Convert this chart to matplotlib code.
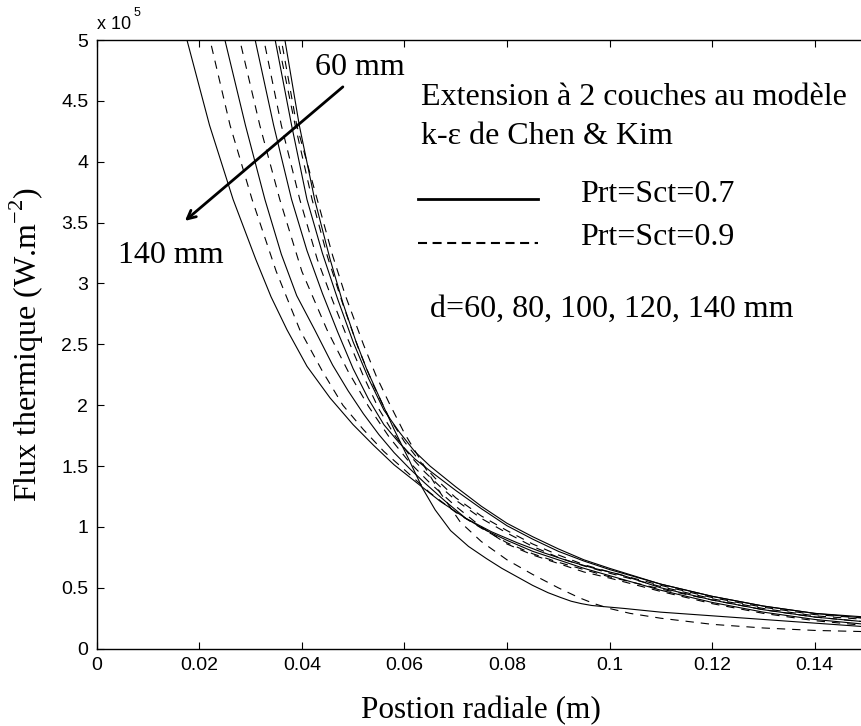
import numpy as np
import matplotlib
matplotlib.use("Agg")
import matplotlib.pyplot as plt
from matplotlib.ticker import FuncFormatter

# flux in units of 1e5 W/m2, x in m
# d = 60 mm
s60_x = [0.0360, 0.0367, 0.0395, 0.0425, 0.0455, 0.0480, 0.0505, 0.0527, 0.0555, 0.0580,
         0.0608, 0.0635, 0.0660, 0.0690, 0.0725, 0.0760, 0.0790, 0.0820, 0.0850, 0.0880,
         0.0905, 0.0925, 0.0945, 0.0965, 0.0990, 0.1030, 0.1100, 0.1200, 0.1300, 0.1400, 0.1500]
s60_y = [5.2, 5.0, 4.3, 3.69, 3.20, 2.84, 2.53, 2.29, 2.03, 1.80,
         1.56, 1.32, 1.14, 0.97, 0.84, 0.74, 0.66, 0.59, 0.52, 0.46,
         0.42, 0.39, 0.37, 0.355, 0.345, 0.33, 0.30, 0.27, 0.24, 0.21, 0.18]
d60_x = [0.0353, 0.0360, 0.0390, 0.0430, 0.0460, 0.0485, 0.0520, 0.0545, 0.0570, 0.0600,
         0.0630, 0.0670, 0.0709, 0.0750, 0.0800, 0.0850, 0.0900, 0.0940, 0.0970, 0.1000,
         0.1040, 0.1100, 0.1200, 0.1300, 0.1400, 0.1500]
d60_y = [5.2, 5.0, 4.3, 3.69, 3.23, 2.90, 2.50, 2.24, 2.02, 1.77,
         1.56, 1.28, 1.04, 0.88, 0.73, 0.61, 0.50, 0.42, 0.37, 0.33,
         0.29, 0.25, 0.20, 0.17, 0.15, 0.14]

# d = 80 mm
s80_x = [0.0341, 0.0348, 0.0380, 0.0410, 0.0440, 0.0470, 0.0500, 0.0530, 0.0560, 0.0590,
         0.0620, 0.0650, 0.0700, 0.0750, 0.0800, 0.0850, 0.0900, 0.0950, 0.1000, 0.1100,
         0.1200, 0.1300, 0.1400, 0.1500]
s80_y = [5.2, 5.0, 4.3, 3.69, 3.25, 2.87, 2.52, 2.22, 1.96, 1.78,
         1.62, 1.50, 1.33, 1.17, 1.03, 0.92, 0.82, 0.73, 0.66, 0.53,
         0.43, 0.35, 0.29, 0.26]
d80_x = [0.0346, 0.0353, 0.0387, 0.0420, 0.0450, 0.0480, 0.0510, 0.0540, 0.0570, 0.0600,
         0.0630, 0.0660, 0.0700, 0.0750, 0.0800, 0.0850, 0.0900, 0.0950, 0.1000, 0.1100,
         0.1200, 0.1300, 0.1400, 0.1500]
d80_y = [5.2, 5.0, 4.3, 3.69, 3.22, 2.83, 2.47, 2.16, 1.90, 1.70,
         1.54, 1.40, 1.24, 1.09, 0.97, 0.86, 0.77, 0.69, 0.63, 0.52,
         0.42, 0.34, 0.28, 0.25]

# d = 100 mm
s100_x = [0.0302, 0.0309, 0.0345, 0.0380, 0.0410, 0.0440, 0.0470, 0.0500, 0.0530, 0.0560,
          0.0590, 0.0620, 0.0650, 0.0700, 0.0750, 0.0800, 0.0850, 0.0900, 0.0950, 0.1000,
          0.1100, 0.1200, 0.1300, 0.1400, 0.1500]
s100_y = [5.2, 5.0, 4.3, 3.69, 3.27, 2.92, 2.60, 2.30, 2.05, 1.84,
          1.69, 1.56, 1.46, 1.30, 1.15, 1.01, 0.90, 0.80, 0.72, 0.65,
          0.53, 0.43, 0.35, 0.29, 0.25]
d100_x = [0.0319, 0.0326, 0.0360, 0.0396, 0.0430, 0.0460, 0.0490, 0.0520, 0.0550, 0.0580,
          0.0610, 0.0640, 0.0670, 0.0700, 0.0750, 0.0800, 0.0850, 0.0900, 0.0950, 0.1000,
          0.1100, 0.1200, 0.1300, 0.1400, 0.1500]
d100_y = [5.2, 5.0, 4.3, 3.69, 3.20, 2.86, 2.54, 2.24, 1.97, 1.76,
          1.59, 1.45, 1.33, 1.22, 1.07, 0.95, 0.84, 0.75, 0.68, 0.62,
          0.51, 0.41, 0.33, 0.27, 0.24]

# d = 120 mm
s120_x = [0.0243, 0.0250, 0.0290, 0.0328, 0.0360, 0.0390, 0.0425, 0.0460, 0.0490, 0.0520,
          0.0550, 0.0580, 0.0610, 0.0640, 0.0680, 0.0720, 0.0760, 0.0800, 0.0850, 0.0900,
          0.0950, 0.1000, 0.1100, 0.1200, 0.1300, 0.1400, 0.1500]
s120_y = [5.2, 5.0, 4.3, 3.69, 3.24, 2.90, 2.62, 2.33, 2.12, 1.93,
          1.76, 1.61, 1.48, 1.36, 1.21, 1.07, 0.97, 0.89, 0.80, 0.73,
          0.66, 0.60, 0.48, 0.38, 0.30, 0.24, 0.20]
d120_x = [0.0272, 0.0279, 0.0318, 0.0357, 0.0400, 0.0449, 0.0490, 0.0530, 0.0570, 0.0610,
          0.0650, 0.0700, 0.0750, 0.0800, 0.0850, 0.0900, 0.0950, 0.1000, 0.1100, 0.1200,
          0.1300, 0.1400, 0.1500]
d120_y = [5.2, 5.0, 4.3, 3.69, 3.10, 2.62, 2.28, 1.99, 1.74, 1.53,
          1.36, 1.17, 1.00, 0.86, 0.77, 0.70, 0.63, 0.58, 0.47, 0.37,
          0.29, 0.23, 0.19]

# d = 140 mm
s140_x = [0.0170, 0.0176, 0.0220, 0.0266, 0.0310, 0.0340, 0.0371, 0.0410, 0.0455, 0.0500,
          0.0540, 0.0580, 0.0625, 0.0670, 0.0720, 0.0770, 0.0820, 0.0870, 0.0920, 0.0970,
          0.1020, 0.1100, 0.1200, 0.1300, 0.1400, 0.1500]
s140_y = [5.2, 5.0, 4.3, 3.69, 3.20, 2.89, 2.62, 2.32, 2.06, 1.84,
          1.67, 1.51, 1.36, 1.21, 1.07, 0.96, 0.87, 0.79, 0.72, 0.66,
          0.61, 0.50, 0.40, 0.32, 0.26, 0.22]
d140_x = [0.0214, 0.0221, 0.0260, 0.0303, 0.0350, 0.0396, 0.0440, 0.0480, 0.0520, 0.0560,
          0.0600, 0.0650, 0.0700, 0.0750, 0.0800, 0.0850, 0.0900, 0.0950, 0.1000, 0.1100,
          0.1200, 0.1300, 0.1400, 0.1500]
d140_y = [5.2, 5.0, 4.3, 3.69, 3.10, 2.62, 2.28, 2.00, 1.80, 1.62,
          1.47, 1.28, 1.12, 0.99, 0.87, 0.78, 0.71, 0.65, 0.59, 0.49,
          0.40, 0.32, 0.26, 0.22]

x_ticks = [0, 0.02, 0.04, 0.06, 0.08, 0.10, 0.12, 0.14]
y_ticks = [0, 0.5, 1, 1.5, 2, 2.5, 3, 3.5, 4, 4.5, 5]

plt.rcParams['lines.scale_dashes'] = False
plt.rcParams['mathtext.fontset'] = 'custom'
plt.rcParams['mathtext.rm'] = 'Liberation Serif'
serif = 'Liberation Serif'
sans = 'Liberation Sans'

fig = plt.figure(figsize=(8.61, 7.26), dpi=100)
ax = fig.add_axes([0.1123, 0.1065, 0.8935, 0.8384])

solid = [(s60_x, s60_y), (s80_x, s80_y), (s100_x, s100_y), (s120_x, s120_y), (s140_x, s140_y)]
dashed = [(d60_x, d60_y), (d80_x, d80_y), (d100_x, d100_y), (d120_x, d120_y), (d140_x, d140_y)]
for xs, ys in solid:
    ax.plot(xs, ys, color='black', lw=0.8)
for xs, ys in dashed:
    ax.plot(xs, ys, color='black', lw=0.8, dashes=(6, 5))

ax.set_xlim(0, 0.15)
ax.set_ylim(0, 5)
ax.set_xticks(x_ticks)
ax.set_yticks(y_ticks)
ax.xaxis.set_major_formatter(FuncFormatter(lambda v, p: '%g' % round(v, 4)))
ax.yaxis.set_major_formatter(FuncFormatter(lambda v, p: '%g' % v))
ax.tick_params(direction='in', length=5, width=0.8, top=True, right=False,
               labelsize=14, pad=6)
for lab in ax.get_xticklabels() + ax.get_yticklabels():
    lab.set_fontfamily(sans)
for sp in ax.spines.values():
    sp.set_linewidth(1.0)

ax.set_xlabel('Postion radiale (m)', fontsize=22.5, family=serif, labelpad=16)
ax.set_ylabel('Flux thermique (W.m$^{-2}$)', fontsize=23, family=serif, labelpad=11)

# multiplier
ax.text(0.0, 1.012, 'x 10', transform=ax.transAxes, fontsize=13, family=sans,
        ha='left', va='bottom')
ax.text(0.048, 1.034, '5', transform=ax.transAxes, fontsize=9, family=sans,
        ha='left', va='bottom')

# arrow and labels
ax.annotate('', xy=(0.0172, 3.514), xytext=(0.0480, 4.615),
            arrowprops=dict(arrowstyle='->,head_length=0.6,head_width=0.3',
                            lw=2, color='black', shrinkA=0, shrinkB=0))
ax.text(0.0426, 4.714, '60 mm', fontsize=23, family=serif, ha='left', va='baseline')
ax.text(0.0042, 3.168, '140 mm', fontsize=23, family=serif, ha='left', va='baseline')

# legend block
ax.text(0.0632, 4.467, 'Extension à 2 couches au modèle', fontsize=23, family=serif,
        ha='left', va='baseline')
ax.text(0.0632, 4.146, 'k-ε de Chen & Kim', fontsize=23, family=serif,
        ha='left', va='baseline')
ax.plot([0.0627, 0.086], [3.693, 3.693], color='black', lw=2)
ax.plot([0.0627, 0.086], [3.33, 3.33], color='black', lw=1.5, dashes=(6.5, 4))
ax.text(0.0942, 3.673, 'Prt=Sct=0.7', fontsize=23, family=serif, ha='left', va='baseline')
ax.text(0.0942, 3.317, 'Prt=Sct=0.9', fontsize=23, family=serif, ha='left', va='baseline')
ax.text(0.065, 2.728, 'd=60, 80, 100, 120, 140 mm', fontsize=23, family=serif,
        ha='left', va='baseline')

fig.savefig('out.png', dpi=100)
